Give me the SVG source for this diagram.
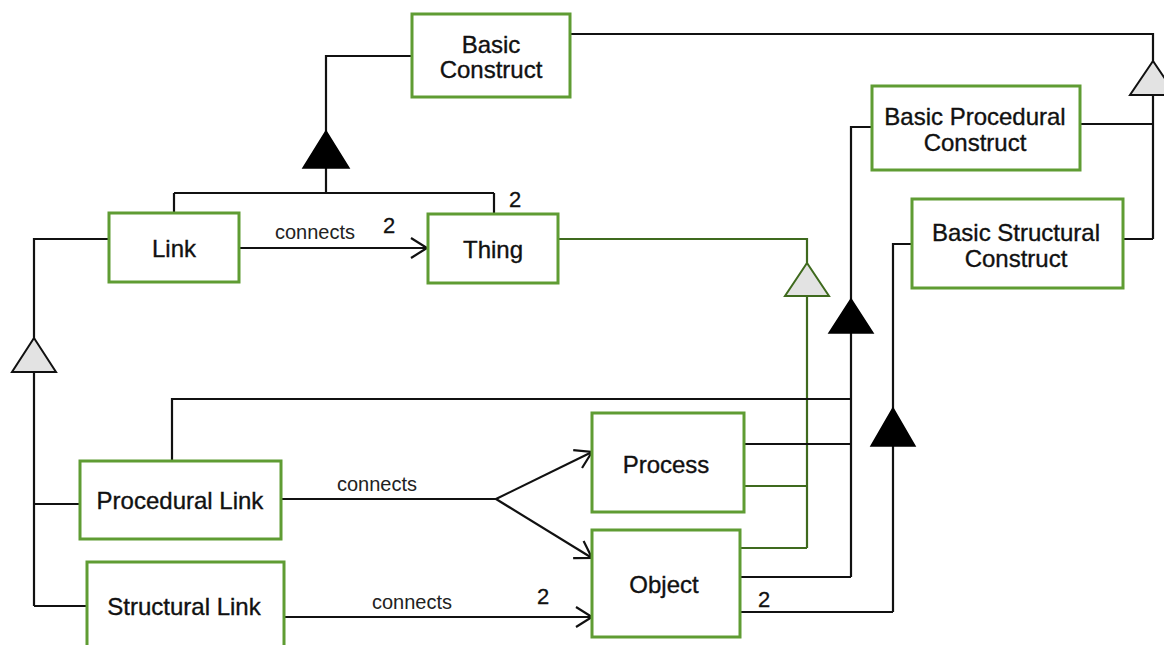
<svg xmlns="http://www.w3.org/2000/svg" width="1164" height="645" viewBox="0 0 1164 645">
<defs>
<style>
.box{fill:#fff;stroke:#5f9c33;stroke-width:3}
.lbl{font-family:"Liberation Sans",Arial,sans-serif;font-size:24px;fill:#111;stroke:#111;stroke-width:0.35;text-anchor:middle}
.sm{font-family:"Liberation Sans",Arial,sans-serif;font-size:20px;fill:#222;text-anchor:middle}
.num{font-family:"Liberation Sans",Arial,sans-serif;font-size:22px;fill:#111;stroke:#111;stroke-width:0.3;text-anchor:middle}
.ln{fill:none;stroke:#111;stroke-width:2.2}
.gl{fill:none;stroke:#3f6a1e;stroke-width:2.2}
.tb{fill:#000;stroke:#000;stroke-width:1.5}
.tg{fill:#e3e3e3;stroke:#111;stroke-width:2}
.tgg{fill:#e3e3e3;stroke:#3f6a1e;stroke-width:2}
</style>
<marker id="open" markerUnits="userSpaceOnUse" markerWidth="20" markerHeight="24" viewBox="-1 -12 20 24" refX="16" refY="0" orient="auto">
<path d="M0,-10 L16,0 L0,10" fill="none" stroke="#111" stroke-width="2.2"/>
</marker>
</defs>
<rect width="1164" height="645" fill="#fff"/>
<g id="connectors">
<path class="ln" d="M412,56 H326 V168 M326,168 V193 M174,193 H494 M174,193 V213 M494,193 V214"/>
<polygon class="tb" points="326,131 303,168 349,168"/>
<path class="ln" d="M239,248 H427" marker-end="url(#open)"/>
<path class="ln" d="M109,239 H34 V606 M34,504 H80 M34,606 H87"/>
<polygon class="tg" points="34,338 12,372 56,372"/>
<path class="ln" d="M570,34 H1153 V239 M1080,124 H1153 M1123,239 H1153"/>
<polygon class="tg" points="1153,61 1130,95 1176,95"/>
<path class="gl" d="M558,239 H807 V548 M744,486 H807 M740,548 H807"/>
<polygon class="tgg" points="807,263 785,296 829,296"/>
<path class="ln" d="M872,127 H851 V577 M740,577 H851 M744,444 H851 M172,461 V399 H851"/>
<polygon class="tb" points="851,299 829,333 873,333"/>
<path class="ln" d="M912,244 H893 V612 M740,612 H893"/>
<polygon class="tb" points="893,408 871,446 915,446"/>
<path class="ln" d="M281,499 H496"/>
<path class="ln" d="M496,499 L592,452" marker-end="url(#open)"/>
<path class="ln" d="M496,499 L592,558" marker-end="url(#open)"/>
<path class="ln" d="M284,617 H592" marker-end="url(#open)"/>
<text class="num" x="515" y="207">2</text>
<text class="sm" x="315" y="239">connects</text>
<text class="num" x="389" y="233">2</text>
<text class="sm" x="377" y="491">connects</text>
<text class="sm" x="412" y="609">connects</text>
<text class="num" x="543" y="604">2</text>
<text class="num" x="764" y="607">2</text>
</g>
<g id="basic-construct"><rect class="box" x="412" y="14" width="158" height="83"/><text class="lbl" x="491" y="53">Basic</text><text class="lbl" x="491" y="78">Construct</text></g>
<g id="link"><rect class="box" x="109" y="213" width="130" height="69"/><text class="lbl" x="174" y="257">Link</text></g>
<g id="thing"><rect class="box" x="428" y="214" width="130" height="69"/><text class="lbl" x="493" y="258">Thing</text></g>
<g id="basic-procedural-construct"><rect class="box" x="872" y="86" width="208" height="84"/><text class="lbl" x="975" y="125">Basic Procedural</text><text class="lbl" x="975" y="151">Construct</text></g>
<g id="basic-structural-construct"><rect class="box" x="912" y="199" width="211" height="89"/><text class="lbl" x="1016" y="241">Basic Structural</text><text class="lbl" x="1016" y="267">Construct</text></g>
<g id="process"><rect class="box" x="592" y="413" width="152" height="99"/><text class="lbl" x="666" y="473">Process</text></g>
<g id="object"><rect class="box" x="592" y="530" width="148" height="107"/><text class="lbl" x="664" y="593">Object</text></g>
<g id="procedural-link"><rect class="box" x="80" y="461" width="201" height="78"/><text class="lbl" x="180" y="509">Procedural Link</text></g>
<g id="structural-link"><rect class="box" x="87" y="562" width="197" height="100"/><text class="lbl" x="184" y="615">Structural Link</text></g>
</svg>
